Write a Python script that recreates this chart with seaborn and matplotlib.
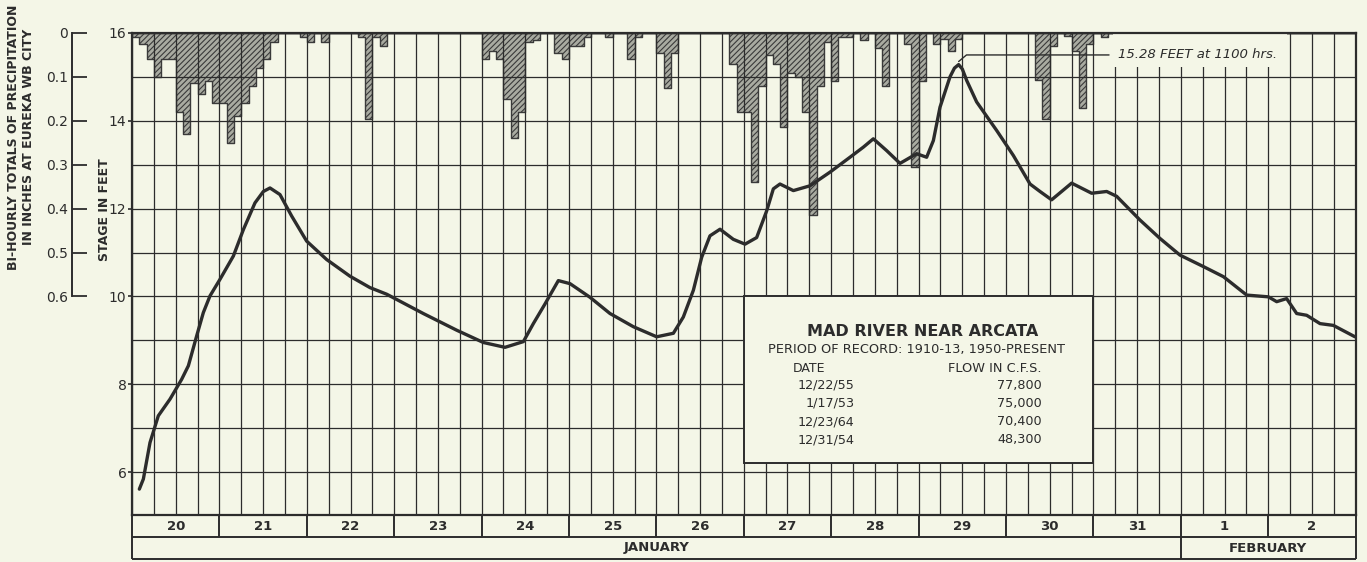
import numpy as np
import pandas as pd
import seaborn as sns
import matplotlib.pyplot as plt
from matplotlib.patches import Rectangle

# Mad River near Arcata, stage
# day = days after 0000 hrs January 20
stage_day = [0.084, 0.130, 0.206, 0.301, 0.435, 0.568, 0.645, 0.740, 0.816, 0.892,
             1.007, 1.160, 1.274, 1.407, 1.503, 1.579, 1.693, 1.827, 1.998, 2.227,
             2.494, 2.723, 2.914, 3.333, 3.715, 4.020, 4.268, 4.478, 4.592, 4.726,
             4.878, 5.012, 5.240, 5.469, 5.736, 6.003, 6.194, 6.308, 6.423, 6.518,
             6.613, 6.728, 6.880, 7.014, 7.147, 7.262, 7.338, 7.414, 7.567, 7.758,
             7.986, 8.215, 8.368, 8.482, 8.635, 8.787, 8.978, 9.092, 9.169, 9.245,
             9.359, 9.410, 9.458, 9.500, 9.550, 9.664, 9.893, 10.084, 10.275, 10.389,
             10.522, 10.751, 10.980, 11.152, 11.266, 11.533, 11.762, 11.991, 12.258, 12.487,
             12.754, 13.002, 13.097, 13.211, 13.326, 13.440, 13.593, 13.745, 13.993]
stage_ft = [5.61, 5.84, 6.67, 7.28, 7.66, 8.11, 8.42, 9.10, 9.63, 10.01,
            10.39, 10.92, 11.52, 12.13, 12.39, 12.47, 12.32, 11.83, 11.26, 10.84,
            10.46, 10.20, 10.05, 9.61, 9.23, 8.95, 8.84, 8.97, 9.38, 9.83,
            10.36, 10.29, 9.98, 9.61, 9.31, 9.08, 9.16, 9.53, 10.14, 10.89,
            11.38, 11.53, 11.30, 11.19, 11.34, 11.95, 12.45, 12.56, 12.41, 12.52,
            12.83, 13.17, 13.40, 13.59, 13.32, 13.03, 13.25, 13.17, 13.55, 14.31,
            15.00, 15.20, 15.28, 15.18, 14.92, 14.43, 13.78, 13.21, 12.56, 12.39,
            12.20, 12.58, 12.35, 12.39, 12.28, 11.74, 11.32, 10.94, 10.68, 10.45,
            10.03, 9.99, 9.88, 9.95, 9.61, 9.57, 9.38, 9.34, 9.08]

# bi-hourly precipitation, Eureka WB City: start hour of each 2-hr total (after 0000 Jan 20)
rain_hour = [0, 2, 4, 6, 8, 10, 12, 14, 16, 18, 20, 22, 24, 26, 28, 30, 32, 34, 36, 38,
             46, 48, 52, 62, 64, 66, 68,
             96, 98, 100, 102, 104, 106, 108, 110, 116, 118, 120, 122, 124, 130, 136, 138,
             144, 146, 148,
             164, 166, 168, 170, 172, 174, 176, 178, 180, 182, 184, 186, 188, 190, 192, 194,
             196, 200, 204, 206, 212, 214, 216, 220, 222, 224, 226,
             248, 250, 252, 256, 258, 260, 262, 266]
rain_in = [0.01, 0.025, 0.06, 0.10, 0.06, 0.06, 0.18, 0.23, 0.115, 0.14, 0.11, 0.16, 0.16,
           0.25, 0.19, 0.16, 0.12, 0.08, 0.06, 0.02,
           0.01, 0.02, 0.02, 0.01, 0.195, 0.01, 0.03,
           0.06, 0.04, 0.06, 0.15, 0.24, 0.18, 0.02, 0.015, 0.045, 0.06, 0.03, 0.03, 0.01,
           0.01, 0.06, 0.01,
           0.045, 0.125, 0.045,
           0.07, 0.18, 0.18, 0.34, 0.12, 0.05, 0.07, 0.215, 0.09, 0.10, 0.18, 0.415, 0.12,
           0.02, 0.11, 0.01, 0.01, 0.015, 0.035, 0.12, 0.025, 0.305, 0.11, 0.025, 0.013,
           0.04, 0.013,
           0.107, 0.196, 0.03, 0.006, 0.04, 0.17, 0.025, 0.01]

day_labels = ["20", "21", "22", "23", "24", "25", "26", "27", "28", "29", "30", "31", "1", "2"]
months = ["JANUARY", "FEBRUARY"]
month_days = [12, 2]

record_dates = ["12/22/55", "1/17/53", "12/23/64", "12/31/54"]
record_flows = ["77,800", "75,000", "70,400", "48,300"]

paper = "#f4f6e7"
ink = "#2c2c2c"

sns.set_theme(style="white", rc={"figure.facecolor": paper, "axes.facecolor": paper,
                                 "hatch.linewidth": 0.8})
plt.rcParams["font.family"] = ["DejaVu Sans"]

W, H = 1367, 562
x0, x1 = 132, 1355.6
y_top, y_bot, y_end = 33, 515, 559
stage_lo = 16 - (y_bot - y_top) / 43.9

fig = plt.figure(figsize=(W / 100, H / 100), dpi=100)
ax = fig.add_axes([x0 / W, 1 - y_bot / H, (x1 - x0) / W, (y_bot - y_top) / H])
ax2 = ax.twinx()

# rainfall hanging from the top
rain = pd.DataFrame({"day": (np.array(rain_hour) + 1) / 24, "inches": rain_in})
bins = [h / 24 for h in range(0, 14 * 24 + 1, 2)]
sns.histplot(data=rain, x="day", weights="inches", bins=bins, element="step", fill=True,
             facecolor="#a9aba1", edgecolor="#3a3a3a", hatch="//////", linewidth=1.0,
             ax=ax2)
ax2.set_ylim((16 - stage_lo) / 10, 0)
ax2.set_ylabel("")
ax2.set_yticks(np.arange(0, 0.61, 0.1))
ax2.set_yticklabels(["0", "0.1", "0.2", "0.3", "0.4", "0.5", "0.6"])
ax2.yaxis.tick_left()
ax2.spines["left"].set_position(("axes", (72 - x0) / (x1 - x0)))
ax2.spines["left"].set_bounds(0, 0.6)
ax2.spines["left"].set_color(ink)
ax2.spines["left"].set_linewidth(1.4)
for s in ["right", "top", "bottom"]:
    ax2.spines[s].set_visible(False)
ax2.tick_params(axis="y", direction="in", length=11, width=1.3, pad=3,
                labelsize=10, colors=ink)

# stage axis on top of the rain
ax.set_zorder(ax2.get_zorder() + 1)
ax.patch.set_visible(False)
sns.lineplot(x=stage_day, y=stage_ft, ax=ax, color=ink, linewidth=2.4, sort=False,
             estimator=None, zorder=4)
ax.set_xlim(0, 14)
ax.set_ylim(stage_lo, 16)
ax.set_xticks(np.arange(0, 14.01, 0.25))
ax.set_yticks(range(6, 17, 2))
ax.set_yticks([7, 9, 11, 13, 15], minor=True)
ax.tick_params(axis="x", length=0, labelbottom=False)
ax.tick_params(axis="y", which="major", length=3, width=1.2, pad=1, labelsize=10,
               colors=ink, left=True)
ax.tick_params(axis="y", which="minor", length=0)
ax.set_axisbelow(True)
ax.grid(True, which="both", color=ink, linewidth=0.9)
for s in ax.spines.values():
    s.set_color(ink)
    s.set_linewidth(1.6)
    s.set_visible(True)

# record box
ax.add_patch(Rectangle((7, 6.2), 4, 3.8, fc=paper, ec=ink, lw=1.4, zorder=1.5))
ax.text(9.05, 9.20, "MAD RIVER NEAR ARCATA", ha="center", va="center", fontsize=11.5,
        fontweight="bold", color=ink, zorder=5)
ax.text(8.98, 8.78, "PERIOD OF RECORD: 1910-13, 1950-PRESENT", ha="center", va="center",
        fontsize=9.3, color=ink, zorder=5)
ax.text(7.56, 8.36, "DATE", ha="left", va="center", fontsize=9, color=ink, zorder=5)
ax.text(10.41, 8.36, "FLOW IN C.F.S.", ha="right", va="center", fontsize=9.3, color=ink,
        zorder=5)
for k, (d, q) in enumerate(zip(record_dates, record_flows)):
    yy = 7.98 - k * 0.415
    ax.text(8.27, yy, d, ha="right", va="center", fontsize=9.2, color=ink, zorder=5)
    ax.text(10.41, yy, q, ha="right", va="center", fontsize=9.2, color=ink, zorder=5)

# peak note
ipk = int(np.argmax(stage_ft))
ax.add_patch(Rectangle((11.22, 15.23), 2.0, 0.77, fc=paper, ec="none", zorder=1.5))
ax.annotate(f"{stage_ft[ipk]:.2f} FEET at 1100 hrs.",
            xy=(stage_day[ipk], stage_ft[ipk] + 0.07), xytext=(11.28, 15.5),
            ha="left", va="center", fontsize=9.5, style="italic", color=ink, zorder=5,
            arrowprops=dict(arrowstyle="-", color=ink, lw=1.0, shrinkA=4, shrinkB=0,
                            connectionstyle="angle,angleA=0,angleB=40,rad=0"))

# day and month rows
axd = fig.add_axes([x0 / W, 1 - y_end / H, (x1 - x0) / W, (y_end - y_bot) / H])
axd.set_xlim(0, 14)
axd.set_ylim(0, 2)
axd.axis("off")
axd.hlines([0, 1, 2], 0, 14, color=ink, lw=1.4, clip_on=False)
axd.vlines(range(15), 1, 2, color=ink, lw=1.4, clip_on=False)
edges = np.concatenate([[0], np.cumsum(month_days)])
axd.vlines(edges, 0, 1, color=ink, lw=1.4, clip_on=False)
for i, lab in enumerate(day_labels):
    axd.text(i + 0.5, 1.5, lab, ha="center", va="center", fontsize=9.5,
             fontweight="bold", color=ink)
for m, a, b in zip(months, edges[:-1], edges[1:]):
    axd.text((a + b) / 2, 0.5, m, ha="center", va="center", fontsize=9.5,
             fontweight="bold", color=ink)

fig.text(105 / W, 1 - 210 / H, "STAGE IN FEET", rotation=90, ha="center", va="center",
         fontsize=9, fontweight="bold", color=ink)
fig.text(21 / W, 1 - 137 / H,
         "BI-HOURLY TOTALS OF PRECIPITATION\nIN INCHES AT EUREKA WB CITY",
         rotation=90, ha="center", va="center", multialignment="center",
         fontsize=9, fontweight="bold", color=ink, linespacing=1.2)

fig.savefig("out.png", dpi=100, facecolor=paper)
